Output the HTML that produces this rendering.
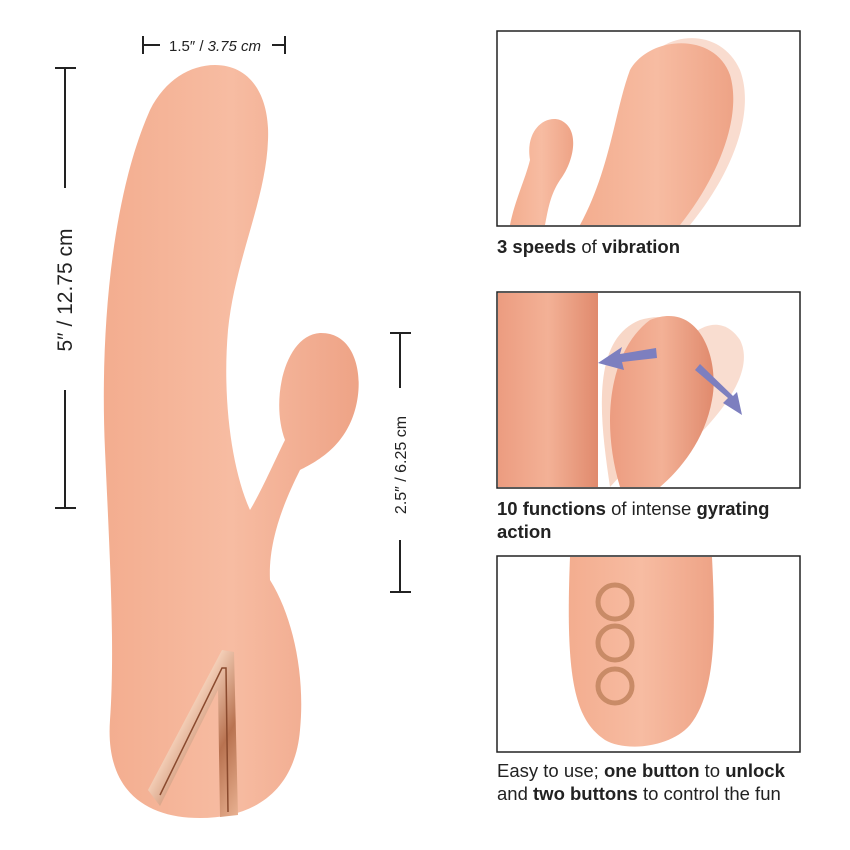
<!DOCTYPE html>
<html><head><meta charset="utf-8">
<style>
html,body{margin:0;padding:0;background:#fff;}
body{width:850px;height:850px;position:relative;overflow:hidden;font-family:"Liberation Sans",sans-serif;color:#222;}
.t{position:absolute;left:497px;font-size:18.5px;line-height:23px;}
b{font-weight:bold;}
</style></head><body>
<svg width="850" height="850" style="position:absolute;left:0;top:0">
<defs>
<linearGradient id="pk" x1="0" x2="1" y1="0" y2="0">
<stop offset="0" stop-color="#f3ad8f"/><stop offset="0.5" stop-color="#f7bca2"/><stop offset="1" stop-color="#eea386"/>
</linearGradient>
<linearGradient id="gd" x1="0" x2="1" y1="0" y2="1">
<stop offset="0" stop-color="#a8623f"/><stop offset="0.4" stop-color="#f6d2bb"/><stop offset="0.7" stop-color="#b87250"/><stop offset="1" stop-color="#e9b292"/>
</linearGradient>
<linearGradient id="dk" x1="0" x2="1"><stop offset="0" stop-color="#ec9c80"/><stop offset="0.5" stop-color="#f3b196"/><stop offset="1" stop-color="#e08a6d"/></linearGradient>
</defs>
<g stroke="#222" stroke-width="2" fill="none">
<line x1="143" y1="45" x2="160" y2="45"/><line x1="143" y1="36" x2="143" y2="54"/>
<line x1="272" y1="45" x2="285" y2="45"/><line x1="285" y1="36" x2="285" y2="54"/>
<line x1="65" y1="68" x2="65" y2="188"/><line x1="55" y1="68" x2="76" y2="68"/>
<line x1="65" y1="390" x2="65" y2="508"/><line x1="55" y1="508" x2="76" y2="508"/>
<line x1="400" y1="333" x2="400" y2="388"/><line x1="390" y1="333" x2="411" y2="333"/>
<line x1="400" y1="540" x2="400" y2="592"/><line x1="390" y1="592" x2="411" y2="592"/>
</g>
<text x="215" y="51" font-size="15" text-anchor="middle" fill="#222" font-family="Liberation Sans">1.5″ / <tspan font-style="italic">3.75 cm</tspan></text>
<text transform="translate(72,290) rotate(-90)" font-size="21" text-anchor="middle" fill="#222" font-family="Liberation Sans">5″ / 12.75 cm</text>
<text transform="translate(406,465) rotate(-90)" font-size="16" text-anchor="middle" fill="#222" font-family="Liberation Sans">2.5″ / 6.25 cm</text>
<path d="M 215 65 C 250 65 270 95 268 140 C 266 200 235 260 228 330 C 222 400 232 470 250 510 C 262 490 275 460 285 440 C 270 400 285 335 320 333 C 355 332 365 375 355 410 C 345 445 320 460 300 470 C 285 500 268 540 270 580 C 295 620 305 680 300 730 C 295 790 255 818 200 818 C 145 818 105 790 110 720 C 115 650 110 560 105 450 C 100 340 110 200 150 110 C 165 80 190 65 215 65 Z" fill="url(#pk)"/>
<path d="M 148 790 L 222 650 L 234 652 L 238 815 L 220 817 L 218 690 L 160 806 Z" fill="url(#gd)"/>
<path d="M 160 795 L 222 668 L 226 668 L 228 812" fill="none" stroke="#8a4a2e" stroke-width="1.5"/>
<rect x="497" y="31" width="303" height="195" fill="#fff" stroke="#222" stroke-width="1.5"/>
<rect x="497" y="292" width="303" height="196" fill="#fff" stroke="#222" stroke-width="1.5"/>
<rect x="497" y="556" width="303" height="196" fill="#fff" stroke="#222" stroke-width="1.5"/>
<g>
<path d="M 590 225 C 620 170 625 110 640 70 C 660 30 720 25 740 70 C 755 110 735 170 690 225 Z" fill="#f9dccf"/>
<path d="M 580 225 C 610 170 615 110 630 70 C 650 35 715 32 730 75 C 742 115 720 175 680 225 Z" fill="url(#pk)"/>
<path d="M 510 225 C 515 200 525 180 530 160 C 525 130 545 115 560 120 C 580 128 575 160 560 180 C 550 195 548 210 545 225 Z" fill="url(#pk)"/>
</g>
<g>
<rect x="498" y="293" width="100" height="194" fill="url(#dk)"/>
<path d="M 610 487 C 600 420 590 340 640 320 C 690 305 700 350 690 400 Z" fill="#f8d7c7"/>
<path d="M 640 487 C 700 440 760 380 740 340 C 720 310 690 330 680 350 Z" fill="#f9ddd0"/>
<path d="M 620 487 C 600 420 610 350 650 320 C 700 300 720 360 712 400 C 705 440 680 470 660 487 Z" fill="url(#dk)"/>
<path d="M 656 348 L 620 354 L 622 347 L 598 363 L 624 370 L 622 362 L 657 358 Z" fill="#7d7fbf"/>
<path d="M 695 370 L 728 398 L 723 403 L 742 415 L 737 392 L 733 396 L 700 364 Z" fill="#7d7fbf"/>
</g>
<g>
<path d="M 570 557 L 712 557 C 715 620 718 690 690 725 C 670 748 625 752 605 740 C 575 720 565 680 570 557 Z" fill="url(#pk)"/>
<g fill="none" stroke="#c98b67" stroke-width="5">
<circle cx="615" cy="602" r="17"/><circle cx="615" cy="643" r="17"/><circle cx="615" cy="686" r="17"/>
</g>
</g>
</svg>
<div class="t" style="top:235px"><b>3 speeds</b> of <b>vibration</b></div>
<div class="t" style="top:497px"><b>10 functions</b> of intense <b>gyrating<br>action</b></div>
<div class="t" style="top:759px">Easy to use; <b>one button</b> to <b>unlock</b><br>and <b>two buttons</b> to control the fun</div>
</body></html>
